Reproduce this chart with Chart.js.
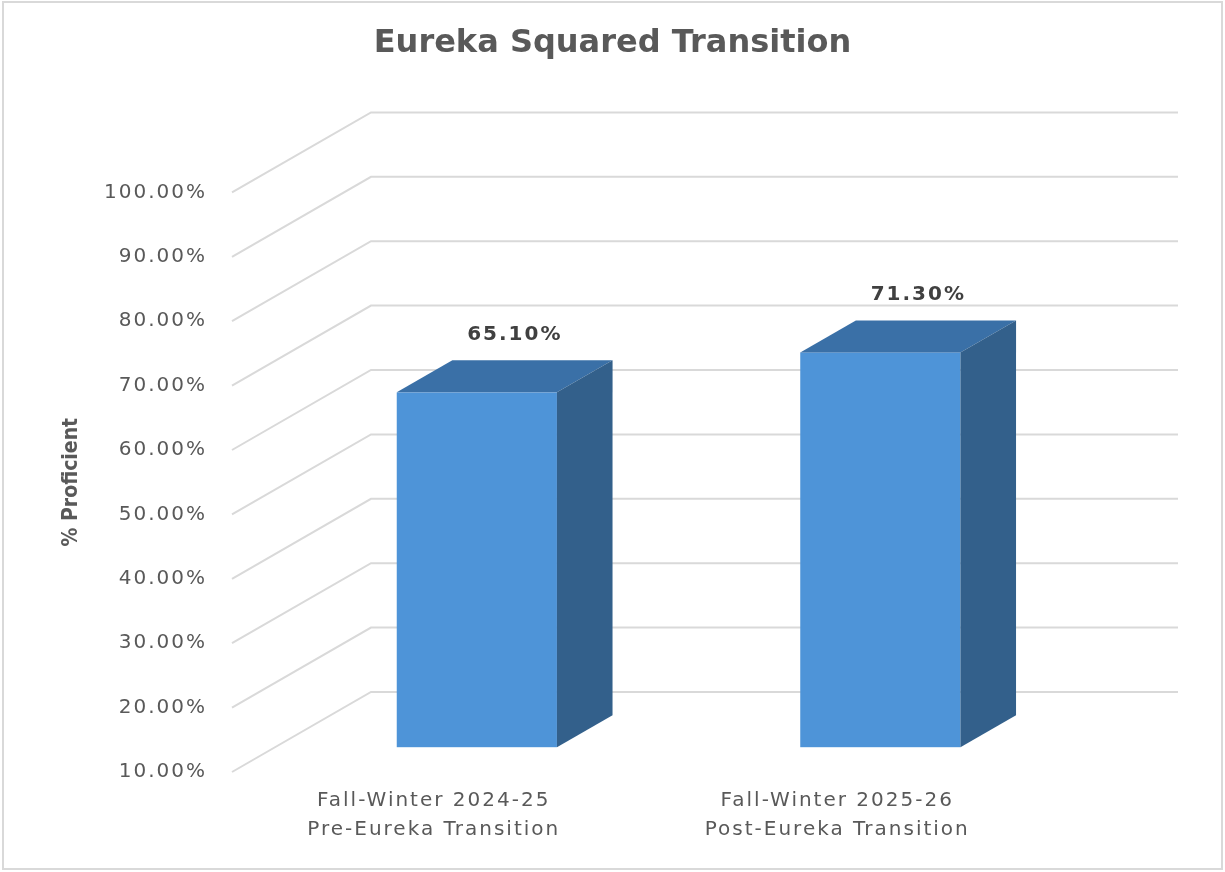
<!DOCTYPE html>
<html>
<head>
<meta charset="utf-8">
<title>Eureka Squared Transition</title>
<script src="https://cdn.jsdelivr.net/npm/chart.js@4.4.1/dist/chart.umd.min.js"></script>
<style>
  html, body { margin: 0; padding: 0; background: #fff; }
  #wrap { width: 1225px; height: 872px; }
</style>
</head>
<body>
<div id="wrap"><canvas id="chart" width="1225" height="872"></canvas></div>
<script>
const categories = [
  ['Fall-Winter 2024-25', 'Pre-Eureka Transition'],
  ['Fall-Winter 2025-26', 'Post-Eureka Transition']
];
const proficient = [65.1, 71.3];
const yTicks = [10, 20, 30, 40, 50, 60, 70, 80, 90, 100];

// fake oblique 3d: pixel shift for the whole floor depth
const DEPTH_X = 139;
const DEPTH_Y = -80;
const BAR_FRONT = 0.31;
const BAR_BACK = 0.71;

const faceColor = '#4e94d8';
const topColor = '#3a70a7';
const sideColor = '#33608b';
const gridColor = '#d9d9d9';
const textColor = '#595959';
const font = '"DejaVu Sans", sans-serif';

const fake3d = {
  id: 'fake3d',
  beforeDraw(chart) {
    const ctx = chart.ctx;
    ctx.letterSpacing = '0px';
    ctx.save();
    ctx.fillStyle = '#fff';
    ctx.fillRect(0, 0, chart.width, chart.height);
    ctx.strokeStyle = gridColor;
    ctx.lineWidth = 2;
    ctx.strokeRect(3, 2, chart.width - 6, chart.height - 5);
    ctx.restore();
  },
  beforeDatasetsDraw(chart) {
    const ctx = chart.ctx;
    const y = chart.scales.y;
    const area = chart.chartArea;
    ctx.save();
    ctx.strokeStyle = gridColor;
    ctx.lineWidth = 2;
    yTicks.forEach(v => {
      const py = y.getPixelForValue(v);
      ctx.beginPath();
      ctx.moveTo(area.left, py);
      ctx.lineTo(area.left + DEPTH_X, py + DEPTH_Y);
      ctx.lineTo(area.right + DEPTH_X, py + DEPTH_Y);
      ctx.stroke();
    });
    ctx.restore();
  },
  afterDatasetsDraw(chart) {
    const ctx = chart.ctx;
    const y = chart.scales.y;
    const base = y.getPixelForValue(y.min);
    const meta = chart.getDatasetMeta(0);
    const fx = BAR_FRONT * DEPTH_X, fy = BAR_FRONT * DEPTH_Y;
    const bx = BAR_BACK * DEPTH_X, by = BAR_BACK * DEPTH_Y;
    ctx.save();
    meta.data.forEach((bar, i) => {
      const p = bar.getProps(['x', 'y', 'width'], true);
      const l = p.x - p.width / 2, r = p.x + p.width / 2;
      // front face
      ctx.fillStyle = faceColor;
      ctx.fillRect(l + fx, p.y + fy, p.width, base - p.y);
      // top
      ctx.fillStyle = topColor;
      ctx.beginPath();
      ctx.moveTo(l + fx, p.y + fy);
      ctx.lineTo(r + fx, p.y + fy);
      ctx.lineTo(r + bx, p.y + by);
      ctx.lineTo(l + bx, p.y + by);
      ctx.closePath();
      ctx.fill();
      // right side
      ctx.fillStyle = sideColor;
      ctx.beginPath();
      ctx.moveTo(r + fx, p.y + fy);
      ctx.lineTo(r + bx, p.y + by);
      ctx.lineTo(r + bx, base + by);
      ctx.lineTo(r + fx, base + fy);
      ctx.closePath();
      ctx.fill();
      // value label
      ctx.font = 'bold 20px ' + font;
      ctx.letterSpacing = '2px';
      ctx.fillStyle = '#404040';
      ctx.textAlign = 'center';
      ctx.textBaseline = 'middle';
      ctx.fillText(proficient[i].toFixed(2) + '%', p.x + fx + 38, p.y + by - 26);
    });
    ctx.restore();
    // tick labels come after this (ticks z = 1), the excel text is spaced out a bit
    ctx.letterSpacing = '2px';
  },
  afterDraw(chart) {
    chart.ctx.letterSpacing = '0px';
  }
};

new Chart(document.getElementById('chart'), {
  type: 'bar',
  data: {
    labels: categories,
    datasets: [{
      label: '% Proficient',
      data: proficient,
      backgroundColor: 'rgba(0,0,0,0)',
      barPercentage: 0.397,
      categoryPercentage: 1
    }]
  },
  options: {
    responsive: false,
    animation: false,
    plugins: {
      legend: { display: false },
      tooltip: { enabled: false },
      title: {
        display: true,
        text: 'Eureka Squared Transition',
        color: textColor,
        font: { family: font, size: 32, weight: 'bold', lineHeight: 1.2 },
        padding: { top: 24, bottom: 130 }
      }
    },
    scales: {
      x: {
        grid: { display: false, drawTicks: false },
        border: { display: false },
        ticks: {
          color: textColor,
          font: { family: font, size: 20, lineHeight: 1.45 },
          padding: 14,
          maxRotation: 0,
          autoSkip: false,
          z: 1
        },
        afterFit(s) { s.height = 100; }
      },
      y: {
        min: 10,
        max: 100,
        grid: { display: false, drawTicks: false },
        border: { display: false },
        ticks: {
          stepSize: 10,
          color: textColor,
          font: { family: font, size: 20 },
          padding: 25,
          z: 1,
          callback: v => v.toFixed(2) + '%'
        },
        title: {
          display: true,
          text: '% Proficient',
          color: textColor,
          font: { family: '"Liberation Sans Narrow", "DejaVu Sans Condensed", sans-serif', size: 21, weight: 'bold', lineHeight: 1.2 },
          padding: { top: 59, bottom: 0 }
        },
        afterFit(s) { s.width = 232; }
      },
      // empty right axis: leaves room for the back wall without moving the title
      pad: {
        type: 'linear',
        position: 'right',
        grid: { display: false, drawTicks: false },
        border: { display: false },
        ticks: { display: false },
        afterFit(s) { s.width = 186; }
      }
    }
  },
  plugins: [fake3d]
});
</script>
</body>
</html>
